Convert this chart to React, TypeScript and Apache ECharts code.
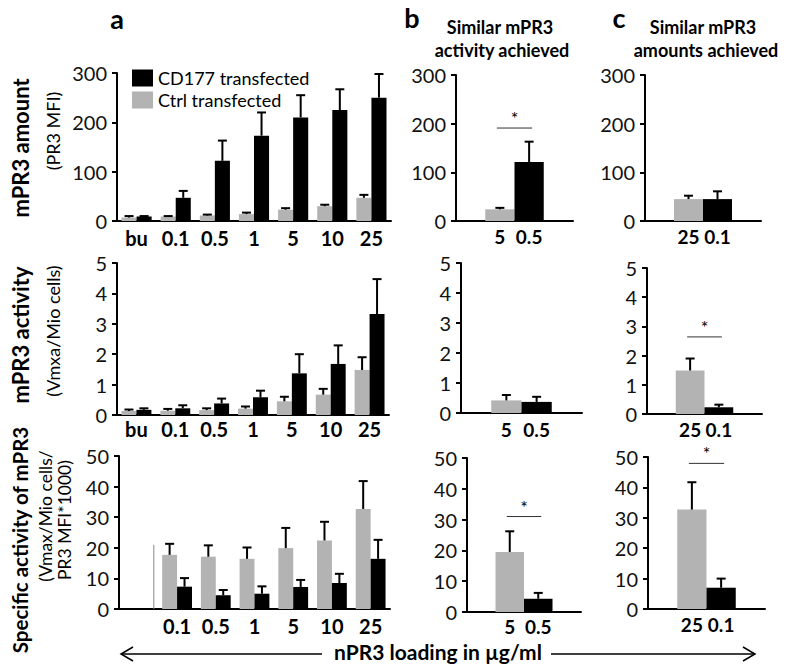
import React, { useEffect, useRef } from "react";
import * as echarts from "echarts";

// ---- Data ----
const catsA = ["bu", "0.1", "0.5", "1", "5", "10", "25"];
const catsSpec = ["", "0.1", "0.5", "1", "5", "10", "25"];
const catsB = ["", "5", "0.5", ""];
const catsC = ["", "25", "0.1", ""];

// Panel a – mPR3 amount (PR3 MFI)
const amountCtrl = [7, 9, 11, 14, 23, 30, 47];
const amountCtrlSd = [3, 1, 2, 3, 3, 3, 6];
const amountCD = [9, 47, 122, 173, 210, 225, 250];
const amountCDSd = [1, 14, 41, 47, 45, 42, 48];

// Panel a – mPR3 activity
const activityCtrl = [0.13, 0.14, 0.16, 0.21, 0.45, 0.67, 1.48];
const activityCtrlSd = [0.05, 0.06, 0.06, 0.07, 0.15, 0.19, 0.42];
const activityCD = [0.17, 0.22, 0.38, 0.58, 1.37, 1.68, 3.32];
const activityCDSd = [0.05, 0.1, 0.16, 0.22, 0.63, 0.61, 1.15];

// Panel a – specific activity
const specCtrl = [null, 17.7, 17.1, 16.4, 19.9, 22.4, 32.7];
const specCtrlSd = [null, 3.6, 3.7, 3.7, 6.6, 6.1, 9.1];
const specCD = [null, 7.3, 4.5, 5.0, 7.2, 8.5, 16.4];
const specCDSd = [null, 2.8, 1.7, 2.4, 2.3, 3.0, 6.2];
// thin separator line drawn in the original at the "bu" slot
const specDivider = [21];

// Panel b – similar activity (ctrl 5, CD177 0.5)
const bAmount = [24, 121];
const bAmountSd = [3, 42];
const bActivity = [0.42, 0.37];
const bActivitySd = [0.18, 0.17];
const bSpec = [19.5, 4.3];
const bSpecSd = [6.7, 1.9];

// Panel c – similar amounts (ctrl 25, CD177 0.1)
const cAmount = [45, 45];
const cAmountSd = [7, 16];
const cActivity = [1.49, 0.23];
const cActivitySd = [0.41, 0.09];
const cSpec = [32.7, 7.0];
const cSpecSd = [9.0, 3.0];

// significance bars: grid index and value level
const sigGrids = [1, 5, 7, 8];
const sigLevels = [191, 2.64, 31, 47.9];

const FONT = 'Lato, "Open Sans", sans-serif';
const GRAY = "#b3b3b3";
const BLACK = "#000000";
const GAP_A = 0.23;

const grids = [
  { left: 117, top: 73, width: 274, height: 148 },
  { left: 456, top: 75, width: 117, height: 146 },
  { left: 645, top: 75, width: 116, height: 146 },
  { left: 117, top: 263, width: 272, height: 152 },
  { left: 461, top: 263, width: 121, height: 150 },
  { left: 647, top: 268, width: 115, height: 146 },
  { left: 119, top: 456, width: 271, height: 153 },
  { left: 467, top: 458, width: 114, height: 154 },
  { left: 648, top: 457, width: 117, height: 152 },
];

const yScales = [
  [300, 100],
  [300, 100],
  [300, 100],
  [5, 1],
  [5, 1],
  [5, 1],
  [50, 10],
  [50, 10],
  [50, 10],
];

const xCats = [catsA, catsB, catsC, catsA, catsB, catsC, catsSpec, catsB, catsC];
const xLabelMargin = [7, 6, 6, 4, 7, 6, 7, 5, 6];

function errorSeries(idx: number, data: any[], grouped: boolean) {
  return {
    type: "custom",
    xAxisIndex: idx,
    yAxisIndex: idx,
    silent: true,
    z: 5,
    data,
    renderItem: (params: any, api: any) => {
      const ci = api.value(0);
      const v = api.value(1);
      const sd = api.value(2);
      const side = api.value(3);
      const base = api.coord([ci, v]);
      const top = api.coord([ci, v + sd]);
      const catW = api.size([1, 0])[0];
      let x = base[0];
      if (grouped) {
        const bw = (catW * (1 - GAP_A)) / 2;
        x = base[0] + (side === 0 ? -bw / 2 : bw / 2);
      }
      const style = { stroke: "#000", lineWidth: 2 };
      return {
        type: "group",
        children: [
          { type: "line", shape: { x1: x, y1: base[1], x2: x, y2: top[1] }, style },
          { type: "line", shape: { x1: x - 4.5, y1: top[1], x2: x + 4.5, y2: top[1] }, style },
        ],
      };
    },
  };
}

function dividerSeries(idx: number) {
  return {
    type: "custom",
    xAxisIndex: idx,
    yAxisIndex: idx,
    silent: true,
    z: 4,
    data: specDivider.map((v) => [0, v]),
    renderItem: (params: any, api: any) => {
      const top = api.coord([api.value(0), api.value(1)]);
      const base = api.coord([api.value(0), 0]);
      const catW = api.size([1, 0])[0];
      const x = top[0] + catW * 0.4;
      return {
        type: "line",
        shape: { x1: x, y1: base[1], x2: x, y2: top[1] },
        style: { stroke: "#888", lineWidth: 1 },
      };
    },
  };
}

function sigSeries(idx: number, y: number) {
  return {
    type: "custom",
    xAxisIndex: idx,
    yAxisIndex: idx,
    silent: true,
    z: 6,
    data: [[1, 2, y]],
    renderItem: (params: any, api: any) => {
      const p1 = api.coord([api.value(0), api.value(2)]);
      const p2 = api.coord([api.value(1), api.value(2)]);
      return {
        type: "line",
        shape: { x1: p1[0] - 3, y1: p1[1], x2: p2[0] + 3, y2: p1[1] },
        style: { stroke: "#333", lineWidth: 1 },
      };
    },
  };
}

function groupedSeries(idx: number, ctrl: any[], ctrlSd: any[], cd: any[], cdSd: any[], legend: boolean) {
  const errData: any[] = [];
  ctrl.forEach((v, i) => {
    if (v != null) errData.push([i, v, ctrlSd[i], 0]);
  });
  cd.forEach((v, i) => {
    if (v != null) errData.push([i, v, cdSd[i], 1]);
  });
  return [
    {
      type: "bar",
      name: legend ? "Ctrl transfected" : undefined,
      xAxisIndex: idx,
      yAxisIndex: idx,
      data: ctrl.map((v) => (v == null ? "-" : v)),
      itemStyle: { color: GRAY },
      barGap: "0%",
      barCategoryGap: GAP_A * 100 + "%",
    },
    {
      type: "bar",
      name: legend ? "CD177 transfected" : undefined,
      xAxisIndex: idx,
      yAxisIndex: idx,
      data: cd.map((v) => (v == null ? "-" : v)),
      itemStyle: { color: BLACK },
      barGap: "0%",
      barCategoryGap: GAP_A * 100 + "%",
    },
    errorSeries(idx, errData, true),
  ];
}

function pairSeries(idx: number, vals: number[], sds: number[]) {
  return [
    {
      type: "bar",
      xAxisIndex: idx,
      yAxisIndex: idx,
      data: ["-", vals[0], "-", "-"],
      itemStyle: { color: GRAY },
      barGap: "-100%",
      barCategoryGap: "0%",
    },
    {
      type: "bar",
      xAxisIndex: idx,
      yAxisIndex: idx,
      data: ["-", "-", vals[1], "-"],
      itemStyle: { color: BLACK },
      barGap: "-100%",
      barCategoryGap: "0%",
    },
    errorSeries(
      idx,
      [
        [1, vals[0], sds[0], 0],
        [2, vals[1], sds[1], 1],
      ],
      false
    ),
  ];
}

function rotText(text: string, x: number, y: number, size: number, bold: boolean) {
  return {
    type: "text",
    x,
    y,
    rotation: Math.PI / 2,
    style: {
      text,
      align: "center",
      verticalAlign: "middle",
      fontSize: size,
      fontWeight: bold ? "bold" : "normal",
      fontFamily: FONT,
      fill: "#000",
    },
  };
}

function plainText(text: string, x: number, y: number, size: number, bold = true) {
  return {
    type: "text",
    x,
    y,
    style: {
      text,
      align: "center",
      verticalAlign: "middle",
      fontSize: size,
      fontWeight: bold ? "bold" : "normal",
      fontFamily: FONT,
      fill: "#000",
    },
  };
}

export default function App() {
  const ref = useRef<HTMLDivElement>(null);
  useEffect(() => {
    if (!ref.current) return;
    const chart = echarts.init(ref.current, null, { renderer: "svg" });
    const axisLine = { show: true, lineStyle: { color: "#000", width: 2 } };

    const xAxis = grids.map((_, i) => ({
      type: "category",
      gridIndex: i,
      data: xCats[i],
      axisLine,
      axisTick: { show: false },
      axisLabel: {
        interval: 0,
        fontSize: i % 3 === 0 ? 20 : 19,
        fontWeight: "bold",
        fontFamily: FONT,
        color: "#000",
        margin: xLabelMargin[i],
      },
      splitLine: { show: false },
    }));

    const yAxis = grids.map((_, i) => ({
      type: "value",
      gridIndex: i,
      min: 0,
      max: yScales[i][0],
      interval: yScales[i][1],
      axisLine,
      axisTick: { show: true, length: 5, lineStyle: { color: "#000", width: 2 } },
      axisLabel: { fontSize: 20, fontFamily: FONT, color: "#111", margin: 10 },
      splitLine: { show: false },
    }));

    const series: any[] = [
      ...groupedSeries(0, amountCtrl, amountCtrlSd, amountCD, amountCDSd, true),
      ...pairSeries(1, bAmount, bAmountSd),
      ...pairSeries(2, cAmount, cAmountSd),
      ...groupedSeries(3, activityCtrl, activityCtrlSd, activityCD, activityCDSd, false),
      ...pairSeries(4, bActivity, bActivitySd),
      ...pairSeries(5, cActivity, cActivitySd),
      ...groupedSeries(6, specCtrl, specCtrlSd, specCD, specCDSd, false),
      dividerSeries(6),
      ...pairSeries(7, bSpec, bSpecSd),
      ...pairSeries(8, cSpec, cSpecSd),
      ...sigGrids.map((g, k) => sigSeries(g, sigLevels[k])),
    ];

    const graphic: any[] = [
      plainText("a", 117, 18, 27),
      plainText("b", 412, 17, 27),
      plainText("c", 619, 17, 27),
      plainText("Similar mPR3", 500, 27, 18),
      plainText("activity achieved", 502, 50, 18),
      plainText("Similar mPR3", 703, 27, 18),
      plainText("amounts achieved", 706, 50, 18),
      rotText("mPR3 amount", 20, 148, 22, true),
      rotText("(PR3 MFI)", 53, 131, 18, false),
      rotText("mPR3 activity", 20, 335, 22, true),
      rotText("(Vmxa/Mio cells)", 53, 331, 18, false),
      rotText("Specific activity of mPR3", 20, 540, 20.5, true),
      rotText("(Vmax/Mio cells/", 45, 516, 17.5, false),
      rotText("PR3 MFI*1000)", 64, 520, 17.5, false),
      plainText("nPR3 loading in \u00b5g/ml", 438, 651, 21),
      { type: "line", shape: { x1: 121, y1: 654, x2: 322, y2: 654 }, style: { stroke: "#000", lineWidth: 1.5 } },
      { type: "polyline", shape: { points: [[133, 647], [121, 654], [133, 661]] }, style: { stroke: "#000", lineWidth: 1.5, fill: null } },
      { type: "line", shape: { x1: 551, y1: 654, x2: 755, y2: 654 }, style: { stroke: "#000", lineWidth: 1.5 } },
      { type: "polyline", shape: { points: [[743, 647], [755, 654], [743, 661]] }, style: { stroke: "#000", lineWidth: 1.5, fill: null } },
    ];

    chart.setOption({
      animation: false,
      backgroundColor: "#fff",
      grid: grids.map((g) => ({ ...g, containLabel: false })),
      xAxis,
      yAxis,
      legend: {
        data: ["CD177 transfected", "Ctrl transfected"],
        orient: "vertical",
        left: 127,
        top: 64,
        itemWidth: 21,
        itemHeight: 17,
        itemGap: 4,
        icon: "rect",
        textStyle: { fontSize: 18, fontFamily: FONT, color: "#000" },
        selectedMode: false,
      },
      series,
      graphic,
    });

    // asterisks above significance bars, placed through the axes' own scales
    const stars = sigGrids.map((g, k) => {
      const p1 = chart.convertToPixel({ xAxisIndex: g, yAxisIndex: g } as any, [1, sigLevels[k]]) as any;
      const p2 = chart.convertToPixel({ xAxisIndex: g, yAxisIndex: g } as any, [2, sigLevels[k]]) as any;
      return {
        type: "text",
        x: (p1[0] + p2[0]) / 2,
        y: p1[1] - 1,
        style: {
          text: "*",
          align: "center",
          verticalAlign: "bottom",
          fontSize: 18,
          fontFamily: FONT,
          fill: "#000",
        },
      };
    });
    chart.setOption({ graphic: [...graphic, ...stars] });
    return () => chart.dispose();
  }, []);
  return <div ref={ref} style={{ position: "fixed", left: 0, top: 0, width: 787, height: 664 }} />;
}
